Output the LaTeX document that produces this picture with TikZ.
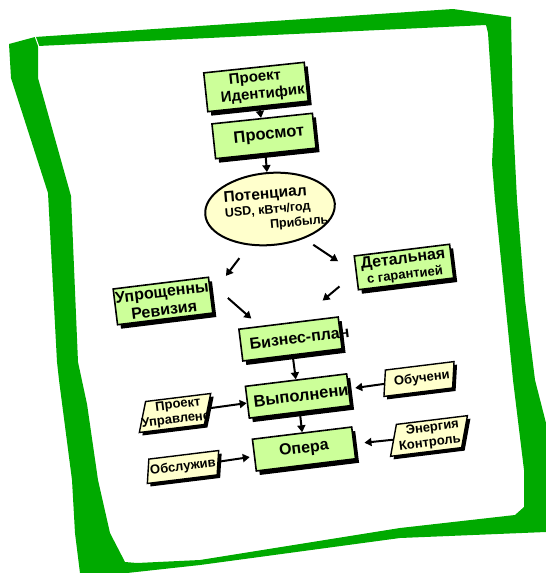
\documentclass[tikz,border=0pt]{standalone}
\usepackage{fontspec}
\setmainfont{Liberation Sans}
\usepackage{tikz}
\usetikzlibrary{arrows.meta, positioning, shapes.geometric, shadows, calc}

\definecolor{framegreen}{RGB}{0,170,0}
\definecolor{boxgreen}{RGB}{204,255,153}
\definecolor{boxyellow}{RGB}{255,255,204}

\newcommand{\fsz}[2]{\bfseries\fontsize{#1}{#2}\selectfont}
\newcommand{\ovr}[1]{\makebox[0pt]{#1}}

\begin{document}
\begin{tikzpicture}[x=1pt, y=-1pt,
    every node/.style={inner sep=0pt},
    box/.style={draw, line width=1.6pt, fill=boxgreen, rotate=7, align=center,
        minimum width=96pt, minimum height=32pt,
        drop shadow={shadow xshift=3.5pt, shadow yshift=-4pt, fill=black, opacity=1}},
    para/.style={draw, line width=1.4pt, fill=boxyellow, trapezium, trapezium left angle=70,
        trapezium right angle=110, trapezium stretches=true, rotate=7, align=center,
        minimum width=72pt, minimum height=26pt,
        drop shadow={shadow xshift=3pt, shadow yshift=-3pt, fill=black, opacity=1}},
    arr/.style={line width=2pt, -{Triangle[length=7pt, width=8pt]}}]

\useasboundingbox (0,0) rectangle (546,573);

% Green hand-drawn frame
\fill[framegreen, even odd rule]
    (9,44) -- (35,37) -- (453,9) -- (511,17) -- (513,120) -- (517,200) -- (525,300)
    -- (535,380) -- (546,423) -- (546,532) -- (400,538) -- (200,565) -- (127,573)
    -- (80,573) -- (75,533) -- (72,480) -- (59,380) -- (57,362) -- (48,193) -- (11,78) -- cycle
    (38,46) -- (486,25) -- (488,33) -- (494,123) -- (492,163) -- (495,200) -- (505,300)
    -- (513,380) -- (524,470) -- (524,507) -- (515,515) -- (400,528) -- (200,560)
    -- (137,563) -- (125,562) -- (110,533) -- (98,480) -- (87,404) -- (78,362)
    -- (71,196) -- (38,78) -- cycle;
\draw[white, line width=1pt] (35,36) -- (39,47);

% Top of the flow
\node[box, rotate=-1, minimum width=101pt, minimum height=39pt, font=\fsz{15}{17}] (idn) at (256,87)
    {Проект\\\ovr{\hspace*{12pt}Идентифик}};
\node[box, rotate=-1, minimum width=101pt, minimum height=35pt, font=\fsz{16.5}{17}] (prs) at (264,136)
    {\hspace*{10pt}Просмот};

% Potential (ellipse) and its text
\node[ellipse, draw, line width=2pt, fill=boxyellow, rotate=5,
    minimum width=130pt, minimum height=72pt] (pot) at (270,209) {};
\node[rotate=5, align=left, font=\fsz{12.5}{15}] (potlbl) at ([xshift=6pt]pot.center)
    {{\fontsize{15.5}{16}\selectfont Потенциал}\\USD, кВтч/год\\\hspace*{44pt}Прибыль};

% Two audit branches
\node[box, minimum width=96pt, minimum height=36pt, font=\fsz{16}{18}] (upr) at (163,301)
    {\ovr{Упрощенны}\\Ревизия};
\node[box, minimum width=96pt, minimum height=34pt, font=\fsz{16}{15.5}] (det) at (404,267)
    {Детальная\\{\fontsize{13}{15.5}\selectfont с гарантией}};

% Main chain
\node[box, minimum width=100pt, minimum height=32pt, font=\fsz{16}{17}] (biz) at (290.5,339)
    {\ovr{\hspace*{18pt}Бизнес-план}};
\node[box, minimum width=102pt, minimum height=32pt, font=\fsz{16.5}{17}] (vyp) at (298,396)
    {\ovr{\hspace*{6pt}Выполнени}};
\node[box, minimum width=100pt, minimum height=32pt, font=\fsz{16}{17}] (opr) at (304,449)
    {Опера};

% Side inputs
\node[para, minimum width=76pt, minimum height=30pt, font=\fsz{13}{14.8}] (upm) at (175,413)
    {\hspace*{8pt}Проект\\\ovr{Управлене}};
\node[para, minimum width=74pt, minimum height=26pt, font=\fsz{13}{13}] (obu) at (419,379)
    {\hspace*{6pt}Обучени};
\node[para, align=right, minimum width=74pt, minimum height=31pt, font=\fsz{13}{14.8}] (enk) at (429,436)
    {Энергия\\Контроль};
\node[para, minimum width=72pt, minimum height=24pt, font=\fsz{13}{13}] (obs) at (183,467)
    {Обслужив};

% Arrows
\draw[arr] (idn) -- (prs);
\draw[arr] (prs) -- (pot);
\draw[arr, shorten <=16pt, shorten >=24pt] (pot.235) -- (upr.east);
\draw[arr, shorten <=11pt, shorten >=21pt] (pot.314) -- (det.west);
\draw[arr, shorten <=24pt, shorten >=11pt] (upr.15) -- (biz.150);
\draw[arr, shorten <=21pt, shorten >=32pt] (det.west) -- (biz.60);
\draw[arr] (biz) -- (vyp);
\draw[arr] (vyp) -- (opr);
\draw[arr] (upm) -- (vyp);
\draw[arr, shorten >=6pt] (obu) -- (vyp);
\draw[arr, shorten >=10pt] (enk) -- (opr);
\draw[arr, shorten >=4pt] (obs) -- (opr);
\end{tikzpicture}
\end{document}
